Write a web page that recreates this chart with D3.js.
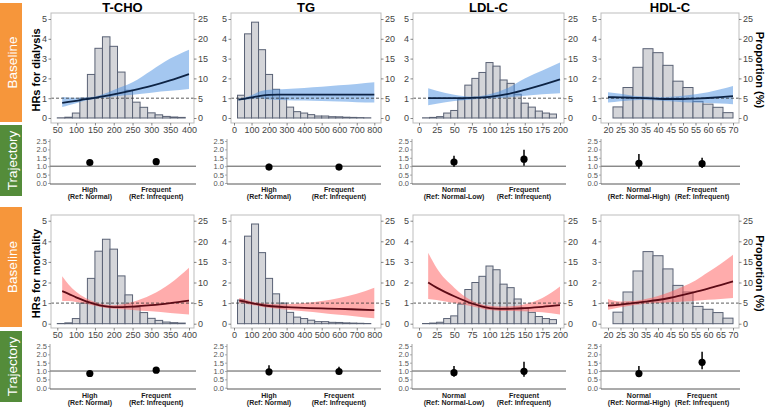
<!DOCTYPE html>
<html><head><meta charset="utf-8">
<script src="https://cdn.jsdelivr.net/npm/d3@7"></script>
<style>
body{margin:0;background:#fff;}
text{font-family:"Liberation Sans",Arial,sans-serif;}
</style></head>
<body><svg id="c" width="766" height="409"></svg>
<script>
// ---------------- DATA ----------------
const panelTitles = ["T-CHO", "TG", "LDL-C", "HDL-C"];
const rowTitles = ["HRs for dialysis", "HRs for mortality"];
const hrTicks = [0, 1, 2, 3, 4, 5];
const propTicks = [0, 5, 10, 15, 20, 25];
const trajTicks = [0, 0.5, 1.0, 1.5, 2.0, 2.5];

const tchoTicks = [50, 100, 150, 200, 250, 300, 350, 400];
const tgTicks = [0, 100, 200, 300, 400, 500, 600, 700, 800];
const ldlTicks = [0, 25, 50, 75, 100, 125, 150, 175, 200];
const hdlTicks = [20, 25, 30, 35, 40, 45, 50, 55, 60, 65, 70];

// histograms: bin starts, bin width, proportion (%)
const tchoBinStart = [50, 70, 90, 110, 130, 150, 170, 190, 210, 230, 250, 270, 290, 310, 330, 350, 370];
const tchoBinWidth = 20;
const tchoPct = [0.05, 0.2, 1.25, 5, 11, 17.6, 20.5, 18.1, 11.6, 7, 4, 2.7, 1.3, 0.8, 0.4, 0.25, 0.15];
const tgBinStart = [20, 60, 100, 140, 180, 220, 260, 300, 340, 380, 420, 460, 500, 540, 580, 620, 660, 700, 740];
const tgBinWidth = 40;
const tgPct = [5.75, 21.25, 24.2, 17.25, 11, 7.25, 5, 2.75, 1.6, 1.25, 0.85, 0.5, 0.5, 0.33, 0.3, 0.2, 0.15, 0.1, 0.05];
const ldlBinStart = [5, 15, 25, 35, 45, 55, 65, 75, 85, 95, 105, 115, 125, 135, 145, 155, 165, 175, 185];
const ldlBinWidth = 10;
const ldlPct = [0.05, 0.15, 0.35, 1.25, 1.9, 4.75, 8.3, 10, 11.5, 14, 13.1, 9.6, 8.75, 6, 3.75, 2.75, 1.75, 1.25, 1.0];
const hdlBinStart = [22, 26, 30, 34, 38, 42, 46, 50, 54, 58, 62, 66];
const hdlBinWidth = 4;
const hdlPct = [2.8, 7.7, 12.8, 17.5, 16.5, 13.3, 9.3, 7.7, 4.2, 3.5, 2.7, 1.35];

// spline curves: x, HR, lower, upper
const tchoX = [63, 80, 100, 125, 150, 175, 200, 250, 300, 350, 400];
const tchoDialHR = [0.76, 0.81, 0.87, 0.95, 1.02, 1.1, 1.19, 1.39, 1.62, 1.9, 2.22];
const tchoDialLo = [0.55, 0.64, 0.74, 0.88, 0.96, 1.02, 1.08, 1.17, 1.28, 1.37, 1.46];
const tchoDialHi = [1.06, 1.03, 1.02, 1.03, 1.08, 1.22, 1.42, 1.8, 2.4, 3.0, 3.45];
const tchoMortHR = [1.58, 1.45, 1.28, 1.1, 0.95, 0.85, 0.8, 0.83, 0.9, 1.0, 1.12];
const tchoMortLo = [1.1, 1.1, 1.05, 0.97, 0.87, 0.77, 0.72, 0.67, 0.6, 0.52, 0.45];
const tchoMortHi = [2.3, 1.9, 1.55, 1.25, 1.05, 0.93, 0.9, 1.05, 1.4, 1.95, 2.72];

const tgDialX = [25, 60, 100, 150, 200, 250, 300, 400, 500, 600, 700, 800];
const tgDialHR = [0.93, 0.97, 1.04, 1.12, 1.17, 1.18, 1.18, 1.18, 1.18, 1.18, 1.18, 1.18];
const tgDialLo = [0.89, 0.92, 0.96, 0.98, 0.93, 0.91, 0.9, 0.88, 0.86, 0.83, 0.8, 0.78];
const tgDialHi = [0.97, 1.03, 1.15, 1.35, 1.43, 1.45, 1.47, 1.52, 1.58, 1.65, 1.72, 1.8];
const tgMortX = [30, 75, 100, 150, 200, 300, 400, 500, 600, 700, 800];
const tgMortHR = [1.12, 1.05, 1.0, 0.92, 0.86, 0.8, 0.77, 0.74, 0.72, 0.69, 0.66];
const tgMortLo = [1.0, 0.96, 0.92, 0.84, 0.77, 0.68, 0.6, 0.52, 0.43, 0.35, 0.26];
const tgMortHi = [1.25, 1.15, 1.08, 1.0, 0.96, 0.95, 1.0, 1.1, 1.25, 1.45, 1.74];

const ldlX = [13, 25, 50, 75, 100, 125, 150, 175, 200];
const ldlDialHR = [1.0, 1.0, 1.0, 1.02, 1.07, 1.2, 1.42, 1.67, 1.95];
const ldlDialLo = [0.65, 0.72, 0.86, 0.94, 0.98, 1.04, 1.12, 1.2, 1.25];
const ldlDialHi = [1.5, 1.38, 1.17, 1.08, 1.2, 1.5, 2.0, 2.4, 2.8];
const ldlMortX = [13, 25, 50, 75, 100, 115, 135, 150, 175, 200];
const ldlMortHR = [2.0, 1.75, 1.33, 0.98, 0.76, 0.72, 0.73, 0.76, 0.82, 0.9];
const ldlMortLo = [1.2, 1.15, 1.0, 0.85, 0.66, 0.62, 0.62, 0.6, 0.55, 0.45];
const ldlMortHi = [3.45, 2.7, 1.75, 1.12, 0.87, 0.83, 0.86, 0.95, 1.25, 1.8];

const hdlX = [20, 25, 30, 35, 40, 45, 50, 55, 60, 65, 70];
const hdlDialHR = [1.05, 1.04, 1.02, 1.0, 0.97, 0.96, 0.96, 0.98, 1.01, 1.05, 1.1];
const hdlDialLo = [0.78, 0.85, 0.9, 0.91, 0.88, 0.84, 0.8, 0.78, 0.76, 0.73, 0.7];
const hdlDialHi = [1.3, 1.22, 1.13, 1.08, 1.06, 1.07, 1.12, 1.2, 1.3, 1.45, 1.62];
const hdlMortHR = [0.88, 0.93, 1.0, 1.07, 1.15, 1.26, 1.4, 1.55, 1.7, 1.87, 2.05];
const hdlMortLo = [0.68, 0.8, 0.9, 0.97, 1.0, 1.04, 1.08, 1.12, 1.16, 1.2, 1.25];
const hdlMortHi = [1.2, 1.08, 1.1, 1.2, 1.35, 1.55, 1.8, 2.1, 2.5, 2.9, 3.35];

// trajectory estimates
const trajCats = [["High", "Frequent"], ["High", "Frequent"], ["Normal", "Frequent"], ["Normal", "Frequent"]];
const trajRefs = [["(Ref: Normal)", "(Ref: Infrequent)"], ["(Ref: Normal)", "(Ref: Infrequent)"],
                  ["(Ref: Normal-Low)", "(Ref: Infrequent)"], ["(Ref: Normal-High)", "(Ref: Infrequent)"]];
const trajDialHR = [[1.22, 1.27], [0.95, 0.95], [1.25, 1.42], [1.17, 1.15]];
const trajDialLo = [[1.12, 1.17], [0.8, 0.85], [0.97, 1.02], [0.85, 0.9]];
const trajDialHi = [[1.33, 1.37], [1.15, 1.05], [1.62, 1.98], [1.72, 1.5]];
const trajMortHR = [[0.85, 1.05], [0.95, 0.97], [0.9, 0.98], [0.85, 1.52]];
const trajMortLo = [[0.75, 0.95], [0.75, 0.8], [0.65, 0.65], [0.62, 1.1]];
const trajMortHi = [[0.98, 1.2], [1.35, 1.25], [1.3, 1.55], [1.3, 2.15]];

// ---------------- LAYOUT ----------------
const svg = d3.select("#c");
const FONT = "'Liberation Sans', Arial, sans-serif";
const cols = [
  {ticks: tchoTicks, x0: 50, x1: 400, px0: 57.3, px1: 189, box: [51, 194], traj: [50, 196],
   bins: tchoBinStart, bw: tchoBinWidth, pct: tchoPct,
   dial: {x: tchoX, hr: tchoDialHR, lo: tchoDialLo, hi: tchoDialHi},
   mort: {x: tchoX, hr: tchoMortHR, lo: tchoMortLo, hi: tchoMortHi}},
  {ticks: tgTicks, x0: 0, x1: 800, px0: 234, px1: 374.3, box: [231, 381], traj: [227, 381],
   bins: tgBinStart, bw: tgBinWidth, pct: tgPct,
   dial: {x: tgDialX, hr: tgDialHR, lo: tgDialLo, hi: tgDialHi},
   mort: {x: tgMortX, hr: tgMortHR, lo: tgMortLo, hi: tgMortHi}},
  {ticks: ldlTicks, x0: 0, x1: 200, px0: 419, px1: 560, box: [413, 564], traj: [412, 566],
   bins: ldlBinStart, bw: ldlBinWidth, pct: ldlPct,
   dial: {x: ldlX, hr: ldlDialHR, lo: ldlDialLo, hi: ldlDialHi},
   mort: {x: ldlMortX, hr: ldlMortHR, lo: ldlMortLo, hi: ldlMortHi}},
  {ticks: hdlTicks, x0: 20, x1: 70, px0: 608, px1: 733, box: [601, 739], traj: [601, 740],
   bins: hdlBinStart, bw: hdlBinWidth, pct: hdlPct,
   dial: {x: hdlX, hr: hdlDialHR, lo: hdlDialLo, hi: hdlDialHi},
   mort: {x: hdlX, hr: hdlMortHR, lo: hdlMortLo, hi: hdlMortHi}}
];
const rows = [
  {box: [13, 123], y0: 118, y5: 19, xlab: 132, traj: {top: 139, bot: 184, y0: 183, y25: 141, lab1: 191.5, lab2: 198.5},
   side: {b: [3, 122], t: [125, 196]}, key: "dial", band: "#4A90E2", line: "#0D2344",
   tHR: trajDialHR, tLo: trajDialLo, tHi: trajDialHi},
  {box: [215, 328], y0: 323.7, y5: 220.7, xlab: 339, traj: {top: 344, bot: 389, y0: 387.7, y25: 346, lab1: 397.5, lab2: 404.5},
   side: {b: [207, 327], t: [331, 402]}, key: "mort", band: "#FF5A5A", line: "#5C0B16",
   tHR: trajMortHR, tLo: trajMortLo, tHi: trajMortHi}
];

// titles
cols.forEach((c, i) => {
  svg.append("text").attr("x", (c.box[0] + c.box[1]) / 2).attr("y", 11.5)
    .attr("text-anchor", "middle").attr("font-size", 13).attr("font-weight", "bold")
    .attr("fill", "#000").text(panelTitles[i]);
});

rows.forEach((r, ri) => {
  // side labels
  svg.append("rect").attr("x", 0).attr("y", r.side.b[0]).attr("width", 22).attr("height", r.side.b[1] - r.side.b[0]).attr("fill", "#F6963B");
  svg.append("rect").attr("x", 0).attr("y", r.side.t[0]).attr("width", 22).attr("height", r.side.t[1] - r.side.t[0]).attr("fill", "#548C3A");
  svg.append("text").attr("transform", `translate(16.5,${(r.side.b[0] + r.side.b[1]) / 2}) rotate(-90)`)
    .attr("text-anchor", "middle").attr("font-size", 13.5).attr("fill", "#fff").text("Baseline");
  svg.append("text").attr("transform", `translate(16.5,${(r.side.t[0] + r.side.t[1]) / 2}) rotate(-90)`)
    .attr("text-anchor", "middle").attr("font-size", 13.5).attr("fill", "#fff").text("Trajectory");
  // y title
  svg.append("text").attr("transform", `translate(39.5,${(r.box[0] + r.box[1]) / 2 + 2}) rotate(-90)`)
    .attr("text-anchor", "middle").attr("font-size", 11).attr("font-weight", "bold").attr("fill", "#000").text(rowTitles[ri]);
  svg.append("text").attr("transform", `translate(756,${(r.box[0] + r.box[1]) / 2 + 2}) rotate(90)`)
    .attr("text-anchor", "middle").attr("font-size", 11).attr("font-weight", "bold").attr("fill", "#000").text("Proportion (%)");

  const y = d3.scaleLinear().domain([0, 5]).range([r.y0, r.y5]);
  const yp = d3.scaleLinear().domain([0, 25]).range([r.y0, r.y5]);

  cols.forEach((c, ci) => {
    const x = d3.scaleLinear().domain([c.x0, c.x1]).range([c.px0, c.px1]);
    const g = svg.append("g");
    const clipId = `clip${ri}_${ci}`;
    svg.append("clipPath").attr("id", clipId).append("rect")
      .attr("x", c.box[0]).attr("y", r.box[0]).attr("width", c.box[1] - c.box[0]).attr("height", r.box[1] - r.box[0]);
    const pg = g.append("g").attr("clip-path", `url(#${clipId})`);

    // histogram
    pg.selectAll("rect.bar").data(c.bins.map((b, k) => ({b, p: c.pct[k]}))).join("rect")
      .attr("x", d => x(d.b)).attr("width", d => x(d.b + c.bw) - x(d.b))
      .attr("y", d => yp(d.p)).attr("height", d => yp(0) - yp(d.p))
      .attr("fill", "#D4D5D9").attr("stroke", "#5A6275").attr("stroke-width", 1);

    const s = c[r.key];
    const pts = s.x.map((v, k) => ({x: v, hr: s.hr[k], lo: s.lo[k], hi: s.hi[k]}));
    pg.append("path").datum(pts)
      .attr("d", d3.area().x(d => x(d.x)).y0(d => y(d.lo)).y1(d => y(d.hi)).curve(d3.curveMonotoneX))
      .attr("fill", r.band).attr("fill-opacity", 0.5);
    // reference line
    pg.append("line").attr("x1", c.box[0]).attr("x2", c.box[1]).attr("y1", y(1)).attr("y2", y(1))
      .attr("stroke", "#333").attr("stroke-width", 0.8).attr("stroke-dasharray", "3,2");
    pg.append("path").datum(pts)
      .attr("d", d3.line().x(d => x(d.x)).y(d => y(d.hr)).curve(d3.curveMonotoneX))
      .attr("fill", "none").attr("stroke", r.line).attr("stroke-width", 1.8);

    // border
    g.append("rect").attr("x", c.box[0]).attr("y", r.box[0]).attr("width", c.box[1] - c.box[0]).attr("height", r.box[1] - r.box[0])
      .attr("fill", "none").attr("stroke", "#BDBDBD").attr("stroke-width", 1);

    // axes
    const la = g.append("g").attr("transform", `translate(${c.box[0]},0)`)
      .call(d3.axisLeft(y).tickValues(hrTicks).tickSize(2.5).tickPadding(1.5).tickFormat(d3.format("d")));
    const ra = g.append("g").attr("transform", `translate(${c.box[1]},0)`)
      .call(d3.axisRight(yp).tickValues(propTicks).tickSize(2.5).tickPadding(1.5).tickFormat(d3.format("d")));
    const ba = g.append("g").attr("transform", `translate(0,${r.box[1]})`)
      .call(d3.axisBottom(x).tickValues(c.ticks).tickSize(2.5).tickPadding(1.5).tickFormat(d3.format("d")));
    [la, ra, ba].forEach(a => {
      a.select(".domain").remove();
      a.selectAll(".tick line").attr("stroke", "#555").attr("stroke-width", 0.7);
      a.selectAll(".tick text").attr("font-size", 9).attr("fill", "#444").attr("font-family", FONT);
    });

    // trajectory panel
    const t = r.traj;
    const tx = d3.scaleLinear().domain([0.4, 2.6]).range([c.traj[0], c.traj[1]]);
    const ty = d3.scaleLinear().domain([0, 2.5]).range([t.y0, t.y25]);
    const tg = svg.append("g");
    tg.append("line").attr("x1", c.traj[0]).attr("x2", c.traj[1]).attr("y1", ty(1)).attr("y2", ty(1))
      .attr("stroke", "#555").attr("stroke-width", 1);
    const ta = tg.append("g").attr("transform", `translate(${c.traj[0]},0)`)
      .call(d3.axisLeft(ty).tickValues(trajTicks).tickSize(2).tickPadding(1).tickFormat(d3.format(".1f")));
    ta.select(".domain").remove();
    ta.selectAll(".tick line").attr("stroke", "#777").attr("stroke-width", 0.6);
    ta.selectAll(".tick text").attr("font-size", 7.5).attr("fill", "#555").attr("font-family", FONT);
    tg.append("line").attr("x1", c.traj[0]).attr("x2", c.traj[0]).attr("y1", t.top).attr("y2", t.bot)
      .attr("stroke", "#888").attr("stroke-width", 0.8);
    tg.append("line").attr("x1", c.traj[0]).attr("x2", c.traj[1]).attr("y1", t.bot).attr("y2", t.bot)
      .attr("stroke", "#444").attr("stroke-width", 0.9);
    const td = [0, 1].map(k => ({k, hr: r.tHR[ci][k], lo: r.tLo[ci][k], hi: r.tHi[ci][k]}));
    tg.selectAll("line.eb").data(td).join("line")
      .attr("x1", d => tx(d.k + 1)).attr("x2", d => tx(d.k + 1))
      .attr("y1", d => ty(d.lo)).attr("y2", d => ty(d.hi)).attr("stroke", "#000").attr("stroke-width", 1.5);
    tg.selectAll("circle").data(td).join("circle")
      .attr("cx", d => tx(d.k + 1)).attr("cy", d => ty(d.hr)).attr("r", 3.6).attr("fill", "#000");
    td.forEach(d => {
      tg.append("text").attr("x", tx(d.k + 1)).attr("y", t.lab1).attr("text-anchor", "middle")
        .attr("font-size", 7).attr("font-weight", "bold").attr("fill", "#1a1a1a").text(trajCats[ci][d.k]);
      tg.append("text").attr("x", tx(d.k + 1)).attr("y", t.lab2).attr("text-anchor", "middle")
        .attr("font-size", 7).attr("font-weight", "bold").attr("fill", "#1a1a1a").text(trajRefs[ci][d.k]);
    });
  });
});
</script></body></html>
